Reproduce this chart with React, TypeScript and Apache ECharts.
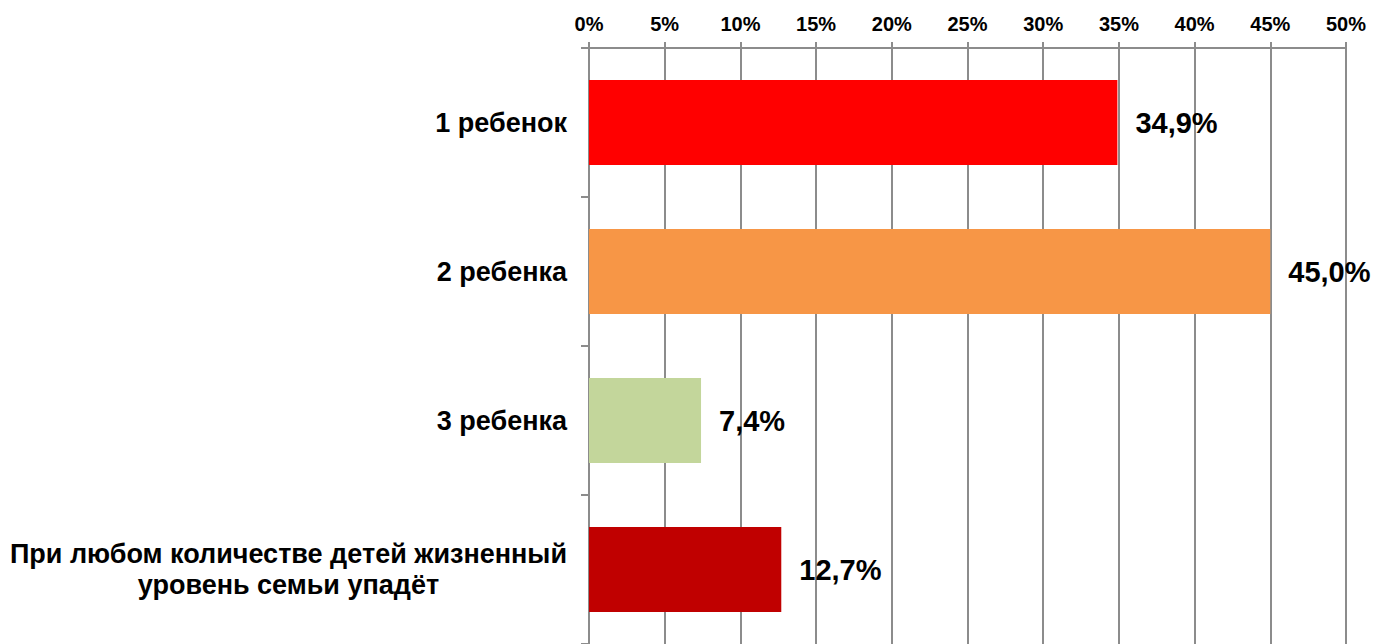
import React, { useEffect, useRef } from "react";
import * as echarts from "echarts";

const categories = [
  "1 ребенок",
  "2 ребенка",
  "3 ребенка",
  "При любом количестве детей жизненный\nуровень семьи упадёт",
];
const values = [34.9, 45.0, 7.4, 12.7];
const barColors = ["#ff0000", "#f79646", "#c3d69b", "#c00000"];
const axisMin = 0;
const axisMax = 50;
const axisStep = 5;

const FONT = "'Liberation Sans', Arial, sans-serif";
const GRAY = "#8c8c8c";

export default function App() {
  const ref = useRef<HTMLDivElement>(null);
  useEffect(() => {
    if (!ref.current) return;
    const chart = echarts.init(ref.current, null, { renderer: "svg" });
    chart.setOption({
      animation: false,
      backgroundColor: "#ffffff",
      grid: { left: 589, top: 48, width: 757, height: 599, containLabel: false },
      xAxis: {
        type: "value",
        position: "top",
        min: axisMin,
        max: axisMax,
        interval: axisStep,
        axisLine: { show: true, lineStyle: { color: GRAY, width: 2 } },
        axisTick: { show: true, length: 6, lineStyle: { color: GRAY, width: 2 } },
        axisLabel: {
          margin: 14,
          formatter: (v: number) => `${v}%`,
          color: "#000",
          fontFamily: FONT,
          fontWeight: "bold",
          fontSize: 20,
        },
        splitLine: { show: true, lineStyle: { color: GRAY, width: 2 } },
      },
      yAxis: {
        type: "category",
        inverse: true,
        data: categories,
        axisLine: { show: true, lineStyle: { color: GRAY, width: 2 } },
        axisTick: { show: true, length: 8, lineStyle: { color: GRAY, width: 2 } },
        axisLabel: {
          margin: 22,
          align: "right",
          formatter: (v: string) =>
            v
              .split("\n")
              .map((s) => `{c|${s}}`)
              .join("\n"),
          rich: {
            c: {
              align: "center",
              color: "#000",
              fontFamily: FONT,
              fontWeight: "bold",
              fontSize: 27,
              lineHeight: 31,
            },
          },
        },
      },
      series: [
        {
          type: "bar",
          barCategoryGap: "43%",
          data: values.map((v, i) => ({ value: v, itemStyle: { color: barColors[i] } })),
          label: {
            show: true,
            position: "right",
            distance: 18,
            formatter: (p: any) => `${p.value.toFixed(1).replace(".", ",")}%`,
            color: "#000",
            fontFamily: FONT,
            fontWeight: "bold",
            fontSize: 29,
          },
        },
      ],
    });
    return () => chart.dispose();
  }, []);
  return (
    <div
      ref={ref}
      style={{ position: "absolute", left: 0, top: 0, width: 1373, height: 644 }}
    />
  );
}
